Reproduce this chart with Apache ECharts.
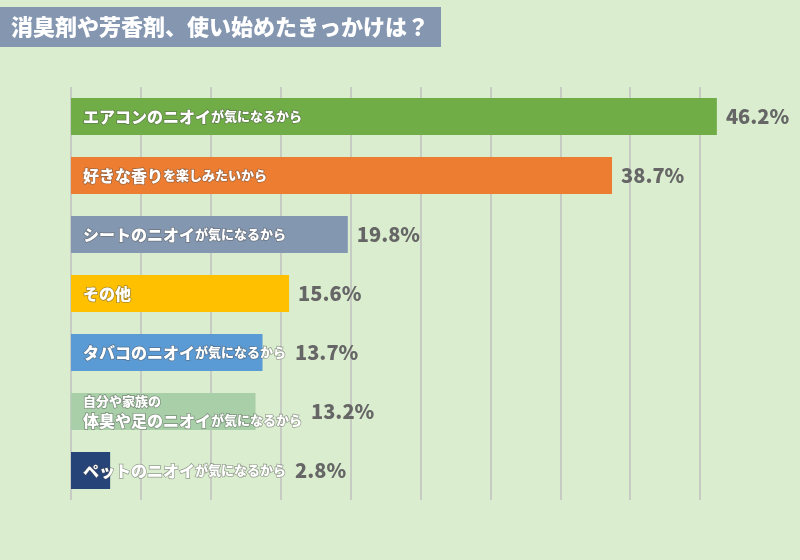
<!DOCTYPE html>
<html>
<head>
<meta charset="utf-8">
<script src="https://cdn.jsdelivr.net/npm/echarts@6/dist/echarts.min.js"></script>
<style>
  html, body { margin: 0; padding: 0; background: #daedcf; }
  #main { width: 800px; height: 560px; }
</style>
</head>
<body>
<div id="main"></div>
<script>
var titleText = '消臭剤や芳香剤、使い始めたきっかけは？';

// category label parts: first line (small), main (large), tail (small)
var labelPre  = ['', '', '', '', '', '自分や家族の', ''];
var labelMain = ['エアコンのニオイ', '好きな香り', 'シートのニオイ', 'その他', 'タバコのニオイ', '体臭や足のニオイ', 'ペットのニオイ'];
var labelSub  = ['が気になるから', 'を楽しみたいから', 'が気になるから', '', 'が気になるから', 'が気になるから', 'が気になるから'];
var values = [46.2, 38.7, 19.8, 15.6, 13.7, 13.2, 2.8];
var barColors = ['#70ad47', '#ed7d31', '#8497b0', '#ffc000', '#5b9bd5', '#a9cfa8', '#264478'];

var categories = labelMain.map(function (m, i) { return labelPre[i] + m + labelSub[i]; });

var FONT = '"Noto Sans CJK JP", sans-serif';
var BIG = 16, SMALL = 13, PAD = 12;

var ctx = document.createElement('canvas').getContext('2d');
function textWidth(str, size) {
  ctx.font = '900 ' + size + 'px ' + FONT;
  return ctx.measureText(str).width;
}
var textLen = labelMain.map(function (m, i) {
  var w = textWidth(m, BIG) + textWidth(labelSub[i], SMALL);
  return Math.max(w, textWidth(labelPre[i], SMALL));
});

var textStyleBase = {
  color: '#fff',
  fontFamily: FONT,
  fontWeight: 900,
  textBorderColor: 'rgba(80,80,80,0.5)',
  textBorderWidth: 1.5
};

var chart = echarts.init(document.getElementById('main'));

option = {
  backgroundColor: '#daedcf',
  title: {
    text: titleText,
    left: 0,
    top: 7,
    padding: [9, 12, 9, 11],
    backgroundColor: '#8496b0',
    textStyle: { color: '#fff', fontSize: 22, fontWeight: 900, fontFamily: FONT }
  },
  grid: { left: 71, right: 30, top: 87, bottom: 60 },
  xAxis: {
    type: 'value',
    min: 0,
    max: 50,
    interval: 5,
    axisLine: { show: false },
    axisTick: { show: false },
    axisLabel: { show: false },
    splitLine: { show: true, showMaxLine: false, lineStyle: { color: '#bfbfbf', width: 1.5 } }
  },
  yAxis: {
    type: 'category',
    data: categories,
    inverse: true,
    axisLine: { show: false },
    axisTick: { show: false },
    axisLabel: { show: false }
  },
  series: [
    {
      type: 'bar',
      barWidth: 37,
      z: 2,
      data: values.map(function (v, i) {
        return { value: v, itemStyle: { color: barColors[i] } };
      }),
      label: {
        show: true,
        position: 'insideLeft',
        distance: PAD,
        formatter: function (p) {
          var i = p.dataIndex;
          var s = '';
          if (labelPre[i]) s += '{s|' + labelPre[i] + '}\n';
          s += '{b|' + labelMain[i] + '}';
          if (labelSub[i]) s += '{s|' + labelSub[i] + '}';
          return s;
        },
        rich: {
          b: Object.assign({ fontSize: BIG, lineHeight: 20 }, textStyleBase),
          s: Object.assign({ fontSize: SMALL, lineHeight: 18 }, textStyleBase)
        }
      }
    },
    {
      type: 'bar',
      barWidth: 37,
      barGap: '-100%',
      z: 3,
      silent: true,
      itemStyle: { color: 'rgba(0,0,0,0)' },
      data: values,
      label: {
        show: true,
        position: 'right',
        formatter: '{c}%',
        color: '#666666',
        fontSize: 20,
        fontWeight: 900,
        fontFamily: FONT
      },
      labelLayout: function (p) {
        var i = p.dataIndex;
        var barEnd = p.rect.x + p.rect.width;
        var txtEnd = p.rect.x + PAD + textLen[i];
        return {
          x: Math.max(barEnd, txtEnd) + 9,
          y: p.rect.y + p.rect.height / 2,
          align: 'left',
          verticalAlign: 'middle'
        };
      }
    }
  ]
};

chart.setOption(option);
</script>
</body>
</html>
